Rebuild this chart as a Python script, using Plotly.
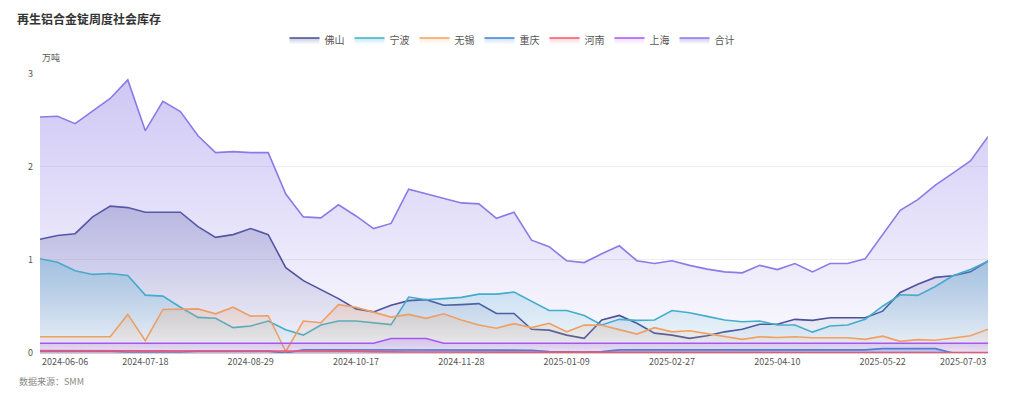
import plotly.graph_objects as go

dates = [
    "2024-06-06", "2024-06-13", "2024-06-20", "2024-06-27", "2024-07-04", "2024-07-11",
    "2024-07-18", "2024-07-25", "2024-08-01", "2024-08-08", "2024-08-15", "2024-08-22",
    "2024-08-29", "2024-09-05", "2024-09-12", "2024-09-19", "2024-09-26", "2024-10-10",
    "2024-10-17", "2024-10-24", "2024-10-31", "2024-11-07", "2024-11-14", "2024-11-21",
    "2024-11-28", "2024-12-05", "2024-12-12", "2024-12-19", "2024-12-26", "2025-01-02",
    "2025-01-09", "2025-01-16", "2025-01-23", "2025-02-06", "2025-02-13", "2025-02-20",
    "2025-02-27", "2025-03-06", "2025-03-13", "2025-03-20", "2025-03-27", "2025-04-03",
    "2025-04-10", "2025-04-17", "2025-04-24", "2025-05-01", "2025-05-08", "2025-05-15",
    "2025-05-22", "2025-05-29", "2025-06-05", "2025-06-12", "2025-06-19", "2025-06-26",
    "2025-07-03",
]

tick_labels = ["2024-06-06", "2024-07-18", "2024-08-29", "2024-10-17", "2024-11-28",
               "2025-01-09", "2025-02-27", "2025-04-10", "2025-05-22", "2025-07-03"]

foshan = [1.22, 1.26, 1.28, 1.46, 1.575, 1.56, 1.51, 1.51, 1.51, 1.355, 1.24, 1.27,
          1.335, 1.27, 0.915, 0.776, 0.678, 0.583, 0.473, 0.441, 0.512, 0.562, 0.572, 0.512,
          0.519, 0.530, 0.424, 0.424, 0.255, 0.245, 0.192, 0.157, 0.354, 0.403, 0.319, 0.213,
          0.192, 0.157, 0.185, 0.227, 0.255, 0.308, 0.308, 0.361, 0.35, 0.378, 0.378, 0.378,
          0.449, 0.649, 0.737, 0.811, 0.829, 0.871, 0.987]

ningbo = [1.012, 0.973, 0.882, 0.843, 0.853, 0.832, 0.621, 0.61, 0.491, 0.382, 0.372, 0.272,
          0.29, 0.343, 0.25, 0.192, 0.301, 0.343, 0.343, 0.325, 0.304, 0.60, 0.572, 0.583,
          0.597, 0.632, 0.632, 0.653, 0.55, 0.456, 0.456, 0.403, 0.301, 0.361, 0.35, 0.354,
          0.456, 0.431, 0.393, 0.354, 0.336, 0.343, 0.301, 0.301, 0.224, 0.29, 0.301, 0.361,
          0.502, 0.625, 0.618, 0.713, 0.829, 0.896, 0.984]

wuxi = [0.174, 0.174, 0.174, 0.174, 0.174, 0.414, 0.132, 0.467, 0.467, 0.473, 0.420, 0.491,
        0.396, 0.40, 0.016, 0.343, 0.325, 0.519, 0.491, 0.438, 0.385, 0.414, 0.372, 0.42,
        0.354, 0.301, 0.266, 0.315, 0.272, 0.319, 0.227, 0.301, 0.297, 0.251, 0.203, 0.272,
        0.227, 0.238, 0.209, 0.181, 0.146, 0.174, 0.167, 0.174, 0.163, 0.163, 0.163, 0.146,
        0.181, 0.125, 0.143, 0.136, 0.157, 0.185, 0.255]

chongqing = [0.02, 0.02, 0.02, 0.02, 0.02, 0.01, 0.01, 0.01, 0.01, 0.02, 0.02, 0.02,
             0.02, 0.02, 0.0, 0.035, 0.035, 0.035, 0.035, 0.035, 0.035, 0.035, 0.035, 0.035,
             0.035, 0.035, 0.035, 0.035, 0.03, 0.015, 0.01, 0.01, 0.015, 0.034, 0.034, 0.034,
             0.034, 0.034, 0.034, 0.034, 0.034, 0.034, 0.034, 0.034, 0.034, 0.034, 0.034, 0.034,
             0.047, 0.047, 0.047, 0.047, 0.0, 0.0, 0.0]

henan = [0.025, 0.025, 0.025, 0.025, 0.025, 0.025, 0.025, 0.025, 0.025, 0.025, 0.025, 0.025,
         0.025, 0.025, 0.025, 0.025, 0.025, 0.025, 0.02, 0.015, 0.01, 0.01, 0.01, 0.01,
         0.005, 0.005, 0.005, 0.005, 0.005, 0.005, 0.005, 0.005, 0.005, 0.005, 0.005, 0.005,
         0.005, 0.005, 0.005, 0.005, 0.005, 0.005, 0.005, 0.005, 0.005, 0.005, 0.005, 0.005,
         0.005, 0.005, 0.005, 0.005, 0.005, 0.005, 0.005]

shanghai = [0.104] * 20 + [0.156, 0.156, 0.156] + [0.104] * 32

total = [2.532, 2.54, 2.46, 2.595, 2.73, 2.93, 2.385, 2.70, 2.59, 2.33, 2.15, 2.16,
         2.15, 2.15, 1.705, 1.46, 1.45, 1.59, 1.47, 1.335, 1.39, 1.758, 1.71, 1.66,
         1.61, 1.60, 1.445, 1.51, 1.21, 1.14, 0.99, 0.97, 1.065, 1.15, 0.99, 0.96,
         0.99, 0.94, 0.90, 0.87, 0.86, 0.94, 0.895, 0.96, 0.87, 0.96, 0.96, 1.01,
         1.275, 1.53, 1.645, 1.80, 1.93, 2.06, 2.32]

series_names = ["佛山", "宁波", "无锡", "重庆", "河南", "上海", "合计"]
series_values = [foshan, ningbo, wuxi, chongqing, henan, shanghai, total]
series_colors = [(69, 78, 150), (59, 178, 200), (245, 162, 90), (58, 132, 214),
                 (245, 84, 106), (168, 85, 247), (140, 122, 230)]
top_alpha = [0.30, 0.30, 0.22, 0.25, 0.25, 0.2, 0.42]

FONT = "Noto Sans CJK SC, Microsoft YaHei, sans-serif"

fig = go.Figure()
for name, vals, col, ta in zip(series_names, series_values, series_colors, top_alpha):
    r, g, b = col
    fig.add_trace(go.Scatter(
        x=dates, y=vals, name=name, mode="lines",
        line=dict(color=f"rgb({r},{g},{b})", width=1.6),
        fill="tozeroy",
        fillgradient=dict(
            type="vertical",
            colorscale=[[0, f"rgba({r},{g},{b},0.02)"], [1, f"rgba({r},{g},{b},{ta})"]],
            start=0, stop=max(vals),
        ),
    ))

annotations = []
annotations.append(dict(text="万吨", x=0, y=1, xref="paper", yref="paper", xanchor="left",
                        yanchor="bottom", yshift=7, showarrow=False,
                        font=dict(size=9, color="#555", family=FONT)))
annotations.append(dict(text="数据来源：SMM", x=(17 - 40) / 948, y=(353 - 382) / 285,
                        xref="paper", yref="paper", xanchor="left", yanchor="middle",
                        showarrow=False, font=dict(size=9, color="#888", family=FONT)))
# edge tick labels kept inside the plot width
annotations.append(dict(text=tick_labels[0], x=tick_labels[0], y=0, xref="x", yref="y",
                        xanchor="left", yanchor="top", yshift=0, showarrow=False,
                        font=dict(size=9, color="#555", family=FONT)))
annotations.append(dict(text=tick_labels[-1], x=tick_labels[-1], y=0, xref="x", yref="y",
                        xanchor="right", yanchor="top", yshift=0, showarrow=False,
                        font=dict(size=9, color="#555", family=FONT)))

fig.update_layout(
    width=1024, height=399,
    margin=dict(l=40, r=36, t=68, b=46),
    paper_bgcolor="white", plot_bgcolor="white",
    font=dict(family=FONT, color="#555"),
    title=dict(text="<b>再生铝合金锭周度社会库存</b>", x=17 / 1024, xref="container",
               xanchor="left", y=1 - 20 / 399, yref="container", yanchor="middle",
               font=dict(size=12, color="#333", family=FONT)),
    legend=dict(orientation="h", x=0.5, xanchor="center", xref="container",
                y=1 - 40 / 399, yref="container", yanchor="middle",
                font=dict(size=10, color="#555", family=FONT), itemwidth=30),
    showlegend=True,
    annotations=annotations,
    hovermode="x unified",
)
fig.update_xaxes(
    type="category", range=[0, len(dates) - 1],
    tickmode="array", tickvals=tick_labels[1:-1], ticktext=tick_labels[1:-1],
    tickfont=dict(size=9, color="#555", family=FONT),
    showgrid=False, showline=True, linecolor="#d0d0d0", linewidth=1,
    ticks="", zeroline=False,
)
fig.update_yaxes(
    range=[0, 3], tickvals=[0, 1, 2, 3], ticktext=["0", "1", "2", "3"],
    tickfont=dict(size=9, color="#555", family=FONT),
    showgrid=True, gridcolor="#eeeeee", gridwidth=1, zeroline=False, showline=False,
    ticks="", ticklabelstandoff=6,
)

fig.write_html("out.html", config={"displayModeBar": False},
               post_script="document.body.style.margin='0';")
